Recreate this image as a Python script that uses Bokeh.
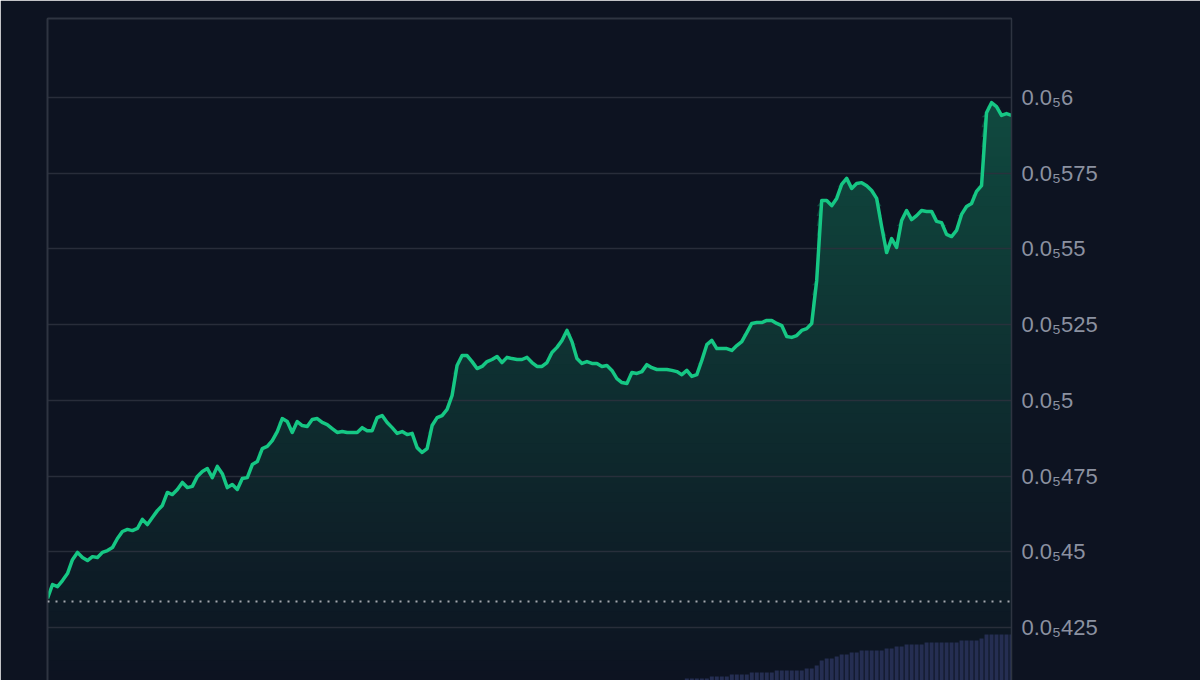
import numpy as np
from bokeh.plotting import figure
from bokeh.models import Range1d, LinearAxis, FixedTicker, Span
from bokeh.embed import file_html
from bokeh.resources import INLINE

# Price (in units of 0.0₅, i.e. value 0.5 -> 0.0₅5)
price = [
    0.4346, 0.4392, 0.4385, 0.4405, 0.4428, 0.4474, 0.4498, 0.4481, 0.4471, 0.4484,
    0.4481, 0.4498, 0.4504, 0.4514, 0.4544, 0.4567, 0.4574, 0.4570, 0.4577, 0.4607,
    0.4590, 0.4613, 0.4636, 0.4653, 0.4696, 0.4689, 0.4706, 0.4729, 0.4712, 0.4716,
    0.4749, 0.4765, 0.4775, 0.4745, 0.4782, 0.4758, 0.4712, 0.4722, 0.4706, 0.4742,
    0.4745, 0.4788, 0.4798, 0.4841, 0.4848, 0.4867, 0.4897, 0.4940, 0.4930, 0.4894,
    0.4930, 0.4917, 0.4914, 0.4937, 0.4940, 0.4927, 0.4920, 0.4907, 0.4894, 0.4897,
    0.4894, 0.4894, 0.4894, 0.4910, 0.4900, 0.4900, 0.4943, 0.4950, 0.4927, 0.4910,
    0.4891, 0.4897, 0.4887, 0.4891, 0.4844, 0.4828, 0.4841, 0.4917, 0.4943, 0.4950,
    0.4970, 0.5016, 0.5115, 0.5148, 0.5148, 0.5128, 0.5105, 0.5112, 0.5128, 0.5135,
    0.5145, 0.5125, 0.5142, 0.5138, 0.5135, 0.5135, 0.5142, 0.5125, 0.5112, 0.5112,
    0.5125, 0.5158, 0.5175, 0.5198, 0.5231, 0.5194, 0.5138, 0.5122, 0.5128, 0.5122,
    0.5122, 0.5112, 0.5115, 0.5099, 0.5072, 0.5059, 0.5056, 0.5092, 0.5089, 0.5095,
    0.5118, 0.5108, 0.5102, 0.5102, 0.5102, 0.5099, 0.5095, 0.5085, 0.5099, 0.5079,
    0.5085, 0.5132, 0.5184, 0.5198, 0.5171, 0.5171, 0.5171, 0.5165, 0.5181, 0.5194,
    0.5224, 0.5254, 0.5257, 0.5257, 0.5264, 0.5264, 0.5254, 0.5247, 0.5211, 0.5208,
    0.5214, 0.5231, 0.5237, 0.5254, 0.5396, 0.5660, 0.5660, 0.5643, 0.5667, 0.5713,
    0.5733, 0.5700, 0.5716, 0.5719, 0.5709, 0.5693, 0.5667, 0.5574, 0.5488, 0.5534,
    0.5505, 0.5594, 0.5627, 0.5597, 0.5610, 0.5627, 0.5624, 0.5624, 0.5591, 0.5587,
    0.5548, 0.5541, 0.5561, 0.5614, 0.5640, 0.5650, 0.5690, 0.5709, 0.5950, 0.5983,
    0.5970, 0.5941, 0.5947, 0.5941,
]

volume = [
    0, 0, 0, 0, 0, 0, 0, 0, 0, 0, 0, 0, 0, 0, 0, 0,
    0, 0, 0, 0, 0, 0, 0, 0, 0, 0, 0, 0, 0, 0, 0, 0,
    0, 0, 0, 0, 0, 0, 0, 0, 0, 0, 0, 0, 0, 0, 0, 0,
    0, 0, 0, 0, 0, 0, 0, 0, 0, 0, 0, 0, 0, 0, 0, 0,
    0, 0, 0, 0, 0, 0, 0, 0, 0, 0, 0, 0, 0, 0, 0, 0,
    0, 0, 0, 0, 0, 0, 0, 0, 0, 0, 0, 0, 0, 0, 0, 0,
    0, 0, 0, 0, 0, 0, 0, 0, 0, 0, 0, 0, 0, 0, 0, 0,
    0, 0, 0, 0, 0, 0, 0, 0, 0, 0, 0, 0, 0, 0, 0, 0,
    2, 2, 2, 2, 2, 4, 4, 4, 4, 6, 6, 6, 6, 8, 8, 8, 8, 8,
    10, 10, 10, 10, 10, 10, 12, 12,
    15, 20, 22, 22, 24, 26, 26, 28, 28,
    30, 30, 30, 30, 30, 32, 32, 34, 34, 36, 36, 36, 36,
    38, 38, 38, 38, 38, 38, 38, 40, 40, 40, 40, 42,
    46, 46, 46, 46, 46, 46,
]

tick_values = [0.425, 0.45, 0.475, 0.5, 0.525, 0.55, 0.575, 0.6]
tick_labels = ["0.0₅425", "0.0₅45", "0.0₅475", "0.0₅5",
               "0.0₅525", "0.0₅55", "0.0₅575", "0.0₅6"]
open_price = 0.4336

BG = (13, 19, 33)
GREEN = (22, 199, 132)
BG_HEX = "#0d1321"
GREEN_HEX = "#16c784"
BORDER = "#2e3441"
GRID = "#2b313d"
LABEL = "#8b91a0"
VOL = "#252e52"

Y0, Y1 = 0.4075, 0.6261
idx = np.arange(len(price))
arr = np.array(price)

p = figure(width=1200, height=680, output_backend="svg", toolbar_location=None,
           x_range=Range1d(0, len(price) - 1), y_range=Range1d(Y0, Y1),
           x_axis_location=None, y_axis_location="right",
           min_border_left=47, min_border_right=189, min_border_top=18,
           min_border_bottom=0,
           background_fill_color=BG_HEX, border_fill_color=BG_HEX,
           outline_line_color=None)

p.xgrid.visible = False
p.ygrid.visible = False

# right price axis
ax = p.yaxis[0]
ax.ticker = FixedTicker(ticks=tick_values)
ax.major_label_overrides = dict(zip(tick_values, tick_labels))
ax.axis_line_color = BORDER
ax.axis_line_width = 1.5
ax.major_tick_line_color = None
ax.minor_tick_line_color = None
ax.major_label_standoff = 4
ax.major_label_text_color = LABEL
ax.major_label_text_font = "Liberation Sans"
ax.major_label_text_font_size = "22px"

# left and top border lines
for loc in ("left", "above"):
    a = LinearAxis(ticker=FixedTicker(ticks=[]), major_label_text_font_size="0px",
                   major_tick_line_color=None, minor_tick_line_color=None,
                   major_label_standoff=0, axis_line_color=BORDER, axis_line_width=2)
    p.add_layout(a, loc)

# vertical gradient area fill: opaque nested bands, colour by height
levels = np.linspace(Y0, 0.6, 60)
for lv in levels:
    t = 0.31 * (lv - Y0) / (0.6 - Y0)
    col = "#%02x%02x%02x" % tuple(int(round(b + t * (g - b))) for b, g in zip(BG, GREEN))
    p.varea(x=idx, y1=np.full(len(arr), lv), y2=np.maximum(arr, lv),
            fill_color=col, fill_alpha=1.0)

# horizontal grid lines (drawn over the fill)
p.hspan(y=tick_values, line_color=GRID, line_width=1.5, line_alpha=0.9)

# volume bars
p.extra_y_ranges = {"vol": Range1d(0, 662)}
p.vbar(x=idx, top=volume, width=0.8, y_range_name="vol",
       fill_color=VOL, line_color=None)

# price line
p.line(idx, price, line_color=GREEN_HEX, line_width=3.5, line_join="round")

# open price dotted line
p.add_layout(Span(location=open_price, dimension="width", line_color="#a3a7ae",
                  line_dash="2 6", line_width=2))

open("out.html", "w", encoding="utf-8").write(file_html(p, INLINE, title="chart"))
